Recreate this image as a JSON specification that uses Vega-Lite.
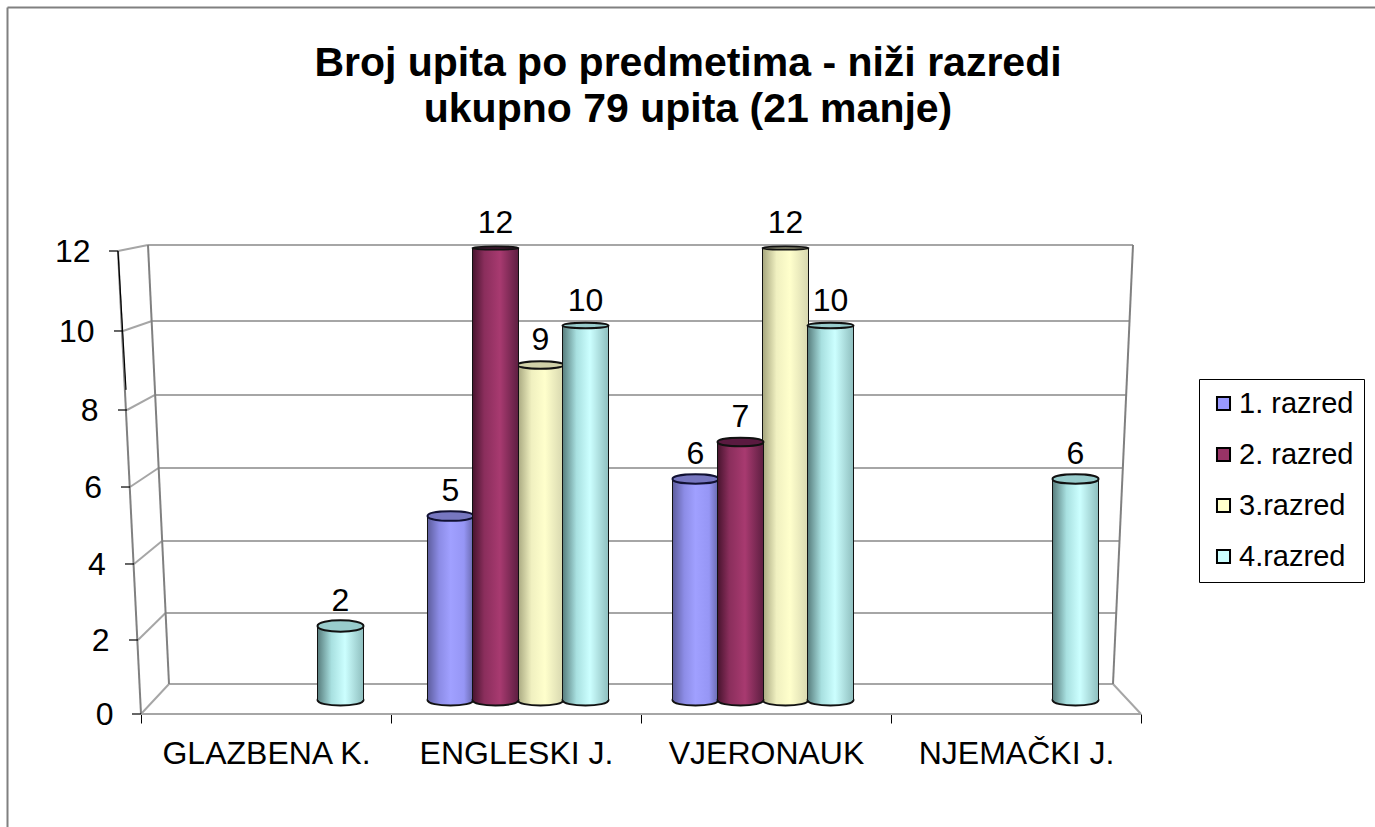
{"$schema":"https://vega.github.io/schema/vega-lite/v6.json","width":1000,"height":463,"autosize":"none","padding":{"left":141,"top":251,"right":234,"bottom":113},"background":"white",
"config":{"font":"Liberation Sans","view":{"stroke":null}},
"title":{"text":["Broj upita po predmetima - niži razredi","ukupno 79 upita (21 manje)"],"font":"Liberation Sans","fontSize":41,"fontWeight":"bold","lineHeight":46,"color":"#000000","anchor":"middle","frame":"group","dx":47,"offset":-156.5,"baseline":"alphabetic"},
"datasets":{
"bars":[
{"predmet":"GLAZBENA K.","razred":"4.razred","upita":2},
{"predmet":"ENGLESKI J.","razred":"1. razred","upita":5},
{"predmet":"ENGLESKI J.","razred":"2. razred","upita":12},
{"predmet":"ENGLESKI J.","razred":"3.razred","upita":9},
{"predmet":"ENGLESKI J.","razred":"4.razred","upita":10},
{"predmet":"VJERONAUK","razred":"1. razred","upita":6},
{"predmet":"VJERONAUK","razred":"2. razred","upita":7},
{"predmet":"VJERONAUK","razred":"3.razred","upita":12},
{"predmet":"VJERONAUK","razred":"4.razred","upita":10},
{"predmet":"NJEMAČKI J.","razred":"4.razred","upita":6}],
"walls":[
{"a":-0.092,"b":12,"c":0.028,"d":12.156},{"a":0.028,"b":12.156,"c":3.968,"d":12.156},
{"a":-0.072,"b":9.927,"c":0.044,"d":10.186},{"a":0.044,"b":10.186,"c":3.954,"d":10.186},
{"a":-0.056,"b":7.879,"c":0.056,"d":8.268},{"a":0.056,"b":8.268,"c":3.941,"d":8.268},
{"a":-0.044,"b":5.883,"c":0.07,"d":6.376},{"a":0.07,"b":6.376,"c":3.927,"d":6.376},
{"a":-0.028,"b":3.888,"c":0.084,"d":4.484},{"a":0.084,"b":4.484,"c":3.914,"d":4.484},
{"a":-0.012,"b":1.918,"c":0.098,"d":2.618},{"a":0.098,"b":2.618,"c":3.901,"d":2.618},
{"a":0,"b":0,"c":0.112,"d":0.778},{"a":0.112,"b":0.778,"c":3.888,"d":0.778},
{"a":3.888,"b":0.778,"c":4,"d":0},{"a":0,"b":0,"c":4,"d":0}],
"edges":[
{"a":0.028,"b":12.156,"c":0.112,"d":0.778},
{"a":3.968,"b":12.156,"c":3.888,"d":0.778},
{"a":-0.092,"b":12,"c":0,"d":0},
{"a":-0.534,"b":18.311,"c":4.936,"d":18.311},
{"a":-0.534,"b":18.311,"c":-0.534,"d":-2.929}],
"ticks":[{"a":-0.092,"b":12,"c":-0.06,"d":8.4},
{"a":-0.128,"b":12,"c":-0.092,"d":12},{"a":-0.108,"b":9.927,"c":-0.072,"d":9.927},{"a":-0.092,"b":7.879,"c":-0.056,"d":7.879},{"a":-0.08,"b":5.883,"c":-0.044,"d":5.883},{"a":-0.064,"b":3.888,"c":-0.028,"d":3.888},{"a":-0.048,"b":1.918,"c":-0.012,"d":1.918},{"a":-0.036,"b":0,"c":0,"d":0}]
},
"resolve":{"scale":{"x":"independent","y":"independent","xOffset":"independent"}},
"layer":[
{"data":{"name":"walls"},"mark":{"type":"rule","color":"#a6a6a6","strokeWidth":2,"clip":false},"encoding":{"x":{"field":"a","type":"quantitative","scale":{"domain":[0,4],"range":[0,1000]},"axis":null},"x2":{"field":"c"},"y":{"field":"b","type":"quantitative","scale":{"domain":[0,12],"range":[463,0]},"axis":null},"y2":{"field":"d"}}},
{"data":{"name":"edges"},"mark":{"type":"rule","color":"#808080","strokeWidth":2,"clip":false},"encoding":{"x":{"field":"a","type":"quantitative","scale":{"domain":[0,4],"range":[0,1000]},"axis":null},"x2":{"field":"c"},"y":{"field":"b","type":"quantitative","scale":{"domain":[0,12],"range":[463,0]},"axis":null},"y2":{"field":"d"}}},
{"data":{"name":"ticks"},"mark":{"type":"rule","color":"#000000","strokeWidth":1.2,"clip":false},"encoding":{"x":{"field":"a","type":"quantitative","scale":{"domain":[0,4],"range":[0,1000]},"axis":null},"x2":{"field":"c"},"y":{"field":"b","type":"quantitative","scale":{"domain":[0,12],"range":[463,0]},"axis":null},"y2":{"field":"d"}}},
{"data":{"name":"bars"},"mark":{"type":"point","filled":true,"opacity":0},"encoding":{
"x":{"field":"predmet","type":"nominal","title":null,"scale":{"domain":["GLAZBENA K.","ENGLESKI J.","VJERONAUK","NJEMAČKI J."],"paddingInner":0,"paddingOuter":0},"axis":{"orient":"bottom","labelAngle":0,"domain":false,"tickBand":"extent","tickColor":"#000000","tickSize":9,"labelFontSize":32,"labelColor":"#000000","labelPadding":15,"labelLimit":400,"labelFont":"Liberation Sans"}},
"y":{"field":"upita","type":"quantitative","title":null,"scale":{"domain":[0,2,4,6,8,10,12],"range":[463,389,313,236,159,80,0]},"axis":{"values":[0,2,4,6,8,10,12],"grid":false,"domain":false,"ticks":false,"tickSize":0,"labelFontSize":32,"labelColor":"#000000","labelFont":"Liberation Sans","labelPadding":{"condition":[{"test":"datum.value==12","value":51},{"test":"datum.value==10","value":47},{"test":"datum.value==8","value":43},{"test":"datum.value==6","value":39.5},{"test":"datum.value==4","value":35.7},{"test":"datum.value==2","value":32}],"value":28}}},
"color":{"field":"razred","type":"nominal","title":null,"scale":{"domain":["1. razred","2. razred","3.razred","4.razred"],"range":["#9999ff","#993366","#ffffcc","#ccffff"]},"legend":{"orient":"none","legendX":1058,"legendY":128,"strokeColor":"#000000","fillColor":"white","padding":10,"rowPadding":21,"labelFontSize":29,"labelColor":"#000000","labelFont":"Liberation Sans","symbolType":"square","symbolSize":170,"symbolOpacity":1,"symbolStrokeColor":"#000000","symbolStrokeWidth":2,"labelOffset":1,"labelLimit":300}}}},
{"data":{"name":"bars"},"transform":[{"filter":"datum.razred=='3.razred'"}],
"encoding":{"x":{"field":"predmet","type":"nominal","scale":{"domain":["GLAZBENA K.","ENGLESKI J.","VJERONAUK","NJEMAČKI J."],"range":[9.5,989.5],"paddingInner":0,"paddingOuter":0},"axis":null},"xOffset":{"field":"razred","type":"nominal","scale":{"domain":["1. razred","2. razred","3.razred","4.razred"],"paddingInner":0,"paddingOuter":0.722}},"y":{"field":"upita","type":"quantitative","scale":{"domain":[0,2,5,6,7,9,10,12],"range":[449,375,265,228,191,114,74.5,-3],"clamp":false},"axis":null}},
"layer":[
{"mark":{"type":"point","filled":true,"size":2116,"shape":"M-1,0C-1,-0.32,1,-0.32,1,0C1,0.32,-1,0.32,-1,0Z","stroke":"#111111","strokeWidth":2,"opacity":1,"fill":{"gradient":"linear","x1":0,"y1":0,"x2":1,"y2":0,"stops":[{"offset":0,"color":"#a8a880"},{"offset":0.3,"color":"#f0f0c0"},{"offset":0.6,"color":"#ffffcc"},{"offset":1,"color":"#d8d8b0"}]}},"encoding":{"y":{"datum":0,"type":"quantitative"}}},
{"mark":{"type":"bar","size":47,"color":"#111111","clip":false},"encoding":{"y2":{"datum":0}}},
{"mark":{"type":"bar","size":45,"clip":false,"fill":{"gradient":"linear","x1":0,"y1":0,"x2":1,"y2":0,"stops":[{"offset":0,"color":"#a8a880"},{"offset":0.3,"color":"#f0f0c0"},{"offset":0.6,"color":"#ffffcc"},{"offset":1,"color":"#d8d8b0"}]}},"encoding":{"y2":{"datum":0}}},
{"mark":{"type":"point","filled":true,"size":2116,"fill":"#d0d0a8","stroke":"#111111","strokeWidth":2,"opacity":1},"encoding":{"shape":{"field":"upita","type":"nominal","scale":{"domain":[2,5,6,7,9,10,12],"range":["M-1,0C-1,-0.33,1,-0.33,1,0C1,0.33,-1,0.33,-1,0Z","M-1,0C-1,-0.279,1,-0.279,1,0C1,0.279,-1,0.279,-1,0Z","M-1,0C-1,-0.272,1,-0.272,1,0C1,0.272,-1,0.272,-1,0Z","M-1,0C-1,-0.244,1,-0.244,1,0C1,0.244,-1,0.244,-1,0Z","M-1,0C-1,-0.215,1,-0.215,1,0C1,0.215,-1,0.215,-1,0Z","M-1,0C-1,-0.163,1,-0.163,1,0C1,0.163,-1,0.163,-1,0Z","M-1,0C-1,-0.093,1,-0.093,1,0C1,0.093,-1,0.093,-1,0Z"]},"legend":null}}},
{"mark":{"type":"text","fontSize":32,"dy":-25,"color":"#000000","font":"Liberation Sans"},"encoding":{"text":{"field":"upita","type":"quantitative"}}}
]},
{"data":{"name":"bars"},"transform":[{"filter":"datum.razred=='1. razred'"}],
"encoding":{"x":{"field":"predmet","type":"nominal","scale":{"domain":["GLAZBENA K.","ENGLESKI J.","VJERONAUK","NJEMAČKI J."],"range":[9.5,989.5],"paddingInner":0,"paddingOuter":0},"axis":null},"xOffset":{"field":"razred","type":"nominal","scale":{"domain":["1. razred","2. razred","3.razred","4.razred"],"paddingInner":0,"paddingOuter":0.722}},"y":{"field":"upita","type":"quantitative","scale":{"domain":[0,2,5,6,7,9,10,12],"range":[449,375,265,228,191,114,74.5,-3]},"axis":null}},
"layer":[
{"mark":{"type":"point","filled":true,"size":2116,"shape":"M-1,0C-1,-0.32,1,-0.32,1,0C1,0.32,-1,0.32,-1,0Z","stroke":"#111111","strokeWidth":2,"opacity":1,"fill":{"gradient":"linear","x1":0,"y1":0,"x2":1,"y2":0,"stops":[{"offset":0,"color":"#5f5fa0"},{"offset":0.25,"color":"#8c8ce6"},{"offset":0.5,"color":"#a0a0ff"},{"offset":0.8,"color":"#9696f5"},{"offset":1,"color":"#6a6ab0"}]}},"encoding":{"y":{"datum":0,"type":"quantitative"}}},
{"mark":{"type":"bar","size":47,"color":"#111111","clip":false},"encoding":{"y2":{"datum":0}}},
{"mark":{"type":"bar","size":45,"clip":false,"fill":{"gradient":"linear","x1":0,"y1":0,"x2":1,"y2":0,"stops":[{"offset":0,"color":"#5f5fa0"},{"offset":0.25,"color":"#8c8ce6"},{"offset":0.5,"color":"#a0a0ff"},{"offset":0.8,"color":"#9696f5"},{"offset":1,"color":"#6a6ab0"}]}},"encoding":{"y2":{"datum":0}}},
{"mark":{"type":"point","filled":true,"size":2116,"fill":"#7777c0","stroke":"#111133","strokeWidth":2,"opacity":1},"encoding":{"shape":{"field":"upita","type":"nominal","scale":{"domain":[2,5,6,7,9,10,12],"range":["M-1,0C-1,-0.33,1,-0.33,1,0C1,0.33,-1,0.33,-1,0Z","M-1,0C-1,-0.279,1,-0.279,1,0C1,0.279,-1,0.279,-1,0Z","M-1,0C-1,-0.272,1,-0.272,1,0C1,0.272,-1,0.272,-1,0Z","M-1,0C-1,-0.244,1,-0.244,1,0C1,0.244,-1,0.244,-1,0Z","M-1,0C-1,-0.215,1,-0.215,1,0C1,0.215,-1,0.215,-1,0Z","M-1,0C-1,-0.163,1,-0.163,1,0C1,0.163,-1,0.163,-1,0Z","M-1,0C-1,-0.093,1,-0.093,1,0C1,0.093,-1,0.093,-1,0Z"]},"legend":null}}},
{"mark":{"type":"text","fontSize":32,"dy":-25,"color":"#000000","font":"Liberation Sans"},"encoding":{"text":{"field":"upita","type":"quantitative"}}}
]},
{"data":{"name":"bars"},"transform":[{"filter":"datum.razred=='2. razred'"}],
"encoding":{"x":{"field":"predmet","type":"nominal","scale":{"domain":["GLAZBENA K.","ENGLESKI J.","VJERONAUK","NJEMAČKI J."],"range":[9.5,989.5],"paddingInner":0,"paddingOuter":0},"axis":null},"xOffset":{"field":"razred","type":"nominal","scale":{"domain":["1. razred","2. razred","3.razred","4.razred"],"paddingInner":0,"paddingOuter":0.722}},"y":{"field":"upita","type":"quantitative","scale":{"domain":[0,2,5,6,7,9,10,12],"range":[449,375,265,228,191,114,74.5,-3]},"axis":null}},
"layer":[
{"mark":{"type":"point","filled":true,"size":2116,"shape":"M-1,0C-1,-0.32,1,-0.32,1,0C1,0.32,-1,0.32,-1,0Z","stroke":"#111111","strokeWidth":2,"opacity":1,"fill":{"gradient":"linear","x1":0,"y1":0,"x2":1,"y2":0,"stops":[{"offset":0,"color":"#4a1530"},{"offset":0.25,"color":"#8a2e5c"},{"offset":0.6,"color":"#a83a70"},{"offset":1,"color":"#5f1f42"}]}},"encoding":{"y":{"datum":0,"type":"quantitative"}}},
{"mark":{"type":"bar","size":47,"color":"#111111","clip":false},"encoding":{"y2":{"datum":0}}},
{"mark":{"type":"bar","size":45,"clip":false,"fill":{"gradient":"linear","x1":0,"y1":0,"x2":1,"y2":0,"stops":[{"offset":0,"color":"#4a1530"},{"offset":0.25,"color":"#8a2e5c"},{"offset":0.6,"color":"#a83a70"},{"offset":1,"color":"#5f1f42"}]}},"encoding":{"y2":{"datum":0}}},
{"mark":{"type":"point","filled":true,"size":2116,"fill":"#5a1a40","stroke":"#111111","strokeWidth":2,"opacity":1},"encoding":{"shape":{"field":"upita","type":"nominal","scale":{"domain":[2,5,6,7,9,10,12],"range":["M-1,0C-1,-0.33,1,-0.33,1,0C1,0.33,-1,0.33,-1,0Z","M-1,0C-1,-0.279,1,-0.279,1,0C1,0.279,-1,0.279,-1,0Z","M-1,0C-1,-0.272,1,-0.272,1,0C1,0.272,-1,0.272,-1,0Z","M-1,0C-1,-0.244,1,-0.244,1,0C1,0.244,-1,0.244,-1,0Z","M-1,0C-1,-0.215,1,-0.215,1,0C1,0.215,-1,0.215,-1,0Z","M-1,0C-1,-0.163,1,-0.163,1,0C1,0.163,-1,0.163,-1,0Z","M-1,0C-1,-0.093,1,-0.093,1,0C1,0.093,-1,0.093,-1,0Z"]},"legend":null}}},
{"mark":{"type":"text","fontSize":32,"dy":-25,"color":"#000000","font":"Liberation Sans"},"encoding":{"text":{"field":"upita","type":"quantitative"}}}
]},
{"data":{"name":"bars"},"transform":[{"filter":"datum.razred=='4.razred'"}],
"encoding":{"x":{"field":"predmet","type":"nominal","scale":{"domain":["GLAZBENA K.","ENGLESKI J.","VJERONAUK","NJEMAČKI J."],"range":[9.5,989.5],"paddingInner":0,"paddingOuter":0},"axis":null},"xOffset":{"field":"razred","type":"nominal","scale":{"domain":["1. razred","2. razred","3.razred","4.razred"],"paddingInner":0,"paddingOuter":0.722}},"y":{"field":"upita","type":"quantitative","scale":{"domain":[0,2,5,6,7,9,10,12],"range":[449,375,265,228,191,114,74.5,-3]},"axis":null}},
"layer":[
{"mark":{"type":"point","filled":true,"size":2116,"shape":"M-1,0C-1,-0.32,1,-0.32,1,0C1,0.32,-1,0.32,-1,0Z","stroke":"#111111","strokeWidth":2,"opacity":1,"fill":{"gradient":"linear","x1":0,"y1":0,"x2":1,"y2":0,"stops":[{"offset":0,"color":"#5a8080"},{"offset":0.3,"color":"#a8e0e0"},{"offset":0.6,"color":"#ccffff"},{"offset":1,"color":"#90c0c0"}]}},"encoding":{"y":{"datum":0,"type":"quantitative"}}},
{"mark":{"type":"bar","size":47,"color":"#111111","clip":false},"encoding":{"y2":{"datum":0}}},
{"mark":{"type":"bar","size":45,"clip":false,"fill":{"gradient":"linear","x1":0,"y1":0,"x2":1,"y2":0,"stops":[{"offset":0,"color":"#5a8080"},{"offset":0.3,"color":"#a8e0e0"},{"offset":0.6,"color":"#ccffff"},{"offset":1,"color":"#90c0c0"}]}},"encoding":{"y2":{"datum":0}}},
{"mark":{"type":"point","filled":true,"size":2116,"fill":"#98cccc","stroke":"#111111","strokeWidth":2,"opacity":1},"encoding":{"shape":{"field":"upita","type":"nominal","scale":{"domain":[2,5,6,7,9,10,12],"range":["M-1,0C-1,-0.33,1,-0.33,1,0C1,0.33,-1,0.33,-1,0Z","M-1,0C-1,-0.279,1,-0.279,1,0C1,0.279,-1,0.279,-1,0Z","M-1,0C-1,-0.272,1,-0.272,1,0C1,0.272,-1,0.272,-1,0Z","M-1,0C-1,-0.244,1,-0.244,1,0C1,0.244,-1,0.244,-1,0Z","M-1,0C-1,-0.215,1,-0.215,1,0C1,0.215,-1,0.215,-1,0Z","M-1,0C-1,-0.163,1,-0.163,1,0C1,0.163,-1,0.163,-1,0Z","M-1,0C-1,-0.093,1,-0.093,1,0C1,0.093,-1,0.093,-1,0Z"]},"legend":null}}},
{"mark":{"type":"text","fontSize":32,"dy":-25,"color":"#000000","font":"Liberation Sans"},"encoding":{"text":{"field":"upita","type":"quantitative"}}}
]}
]}
